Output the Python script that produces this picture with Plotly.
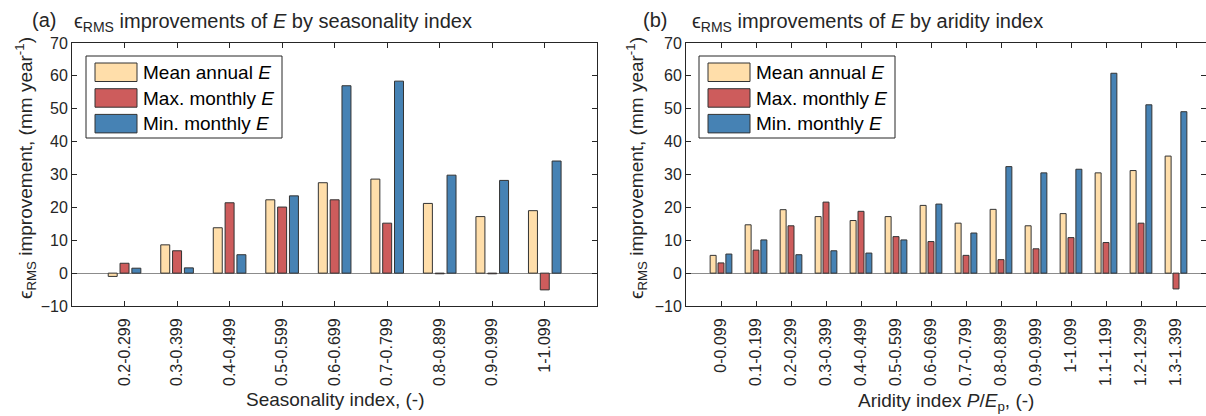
import plotly.graph_objects as go

# ---------------- data ----------------
season_labels = ["0.2-0.299", "0.3-0.399", "0.4-0.499", "0.5-0.599", "0.6-0.699",
                 "0.7-0.799", "0.8-0.899", "0.9-0.999", "1-1.099"]
season_mean_annual = [-1.0, 8.6, 13.8, 22.3, 27.5, 28.6, 21.2, 17.2, 19.0]
season_max_monthly = [3.0, 6.8, 21.4, 20.1, 22.3, 15.2, -0.2, -0.2, -5.1]
season_min_monthly = [1.5, 1.6, 5.6, 23.5, 57.0, 58.4, 29.8, 28.2, 34.1]

aridity_labels = ["0-0.099", "0.1-0.199", "0.2-0.299", "0.3-0.399", "0.4-0.499",
                  "0.5-0.599", "0.6-0.699", "0.7-0.799", "0.8-0.899", "0.9-0.999",
                  "1-1.099", "1.1-1.199", "1.2-1.299", "1.3-1.399"]
aridity_mean_annual = [5.4, 14.7, 19.3, 17.2, 16.0, 17.2, 20.6, 15.2, 19.4, 14.4, 18.1, 30.5, 31.2, 35.6]
aridity_max_monthly = [3.1, 7.0, 14.4, 21.6, 18.8, 11.1, 9.6, 5.4, 4.1, 7.4, 10.8, 9.3, 15.2, -4.8]
aridity_min_monthly = [5.8, 10.1, 5.6, 6.8, 6.1, 10.1, 21.0, 12.2, 32.4, 30.5, 31.6, 60.8, 51.2, 49.1]

series_names = ["Mean annual <i>E</i>", "Max. monthly <i>E</i>", "Min. monthly <i>E</i>"]
series_colors = ["#FFDEAA", "#CD5C5C", "#4682B4"]

# ---------------- style ----------------
FONT = "Liberation Sans, Arial, sans-serif"
AX = "#262626"
EDGE = "#333333"
W, H = 1206, 416
ML, MT, MB = 72, 43, 110
PW = W - ML
PH = H - MT - MB


def px_x(p):
    return (p - ML) / PW


def px_y(p):
    return 1 - (p - MT) / PH


fig = go.Figure()

panels = [
    ("x", "y", season_labels, [season_mean_annual, season_max_monthly, season_min_monthly]),
    ("x2", "y2", aridity_labels, [aridity_mean_annual, aridity_max_monthly, aridity_min_monthly]),
]
for xa, ya, labels, series in panels:
    for name, color, vals in zip(series_names, series_colors, series):
        fig.add_trace(go.Bar(
            x=labels, y=vals, name=name, xaxis=xa, yaxis=ya,
            marker=dict(color=color, line=dict(color=EDGE, width=1)),
            offsetgroup=name, showlegend=False,
        ))

common_x = dict(
    type="category", showline=True, linecolor=AX, linewidth=1, mirror="ticks",
    ticks="inside", ticklen=5, tickcolor=AX, tickangle=-90, ticklabelstandoff=5,
    tickfont=dict(family=FONT, size=16, color=AX), showgrid=False, zeroline=False,
)
common_y = dict(
    range=[-10, 70], dtick=10, showline=True, linecolor=AX, linewidth=1, mirror="ticks",
    ticks="inside", ticklen=5, tickcolor=AX,
    tickfont=dict(family=FONT, size=16, color=AX), showgrid=False,
    zeroline=True, zerolinecolor="#8C8C8C", zerolinewidth=1,
)

x1_dom = [0, px_x(597.3)]
x2_dom = [px_x(686), 1]
unit2 = 35.0
x2_span = (W - 686) / unit2

fig.update_layout(
    width=W, height=H,
    margin=dict(l=ML, r=0, t=MT, b=MB, pad=0),
    paper_bgcolor="white", plot_bgcolor="white",
    barmode="group", bargap=0.325, bargroupgap=0.24,
    font=dict(family=FONT, color=AX),
    xaxis=dict(domain=x1_dom, anchor="y", range=[-1, 9], **common_x),
    yaxis=dict(domain=[0, 1], anchor="x", **common_y),
    xaxis2=dict(domain=x2_dom, anchor="y2", range=[-1, x2_span - 1], **common_x),
    yaxis2=dict(domain=[0, 1], anchor="x2", **common_y),
    showlegend=False,
)

annotations = [
    # panel titles
    dict(text="(a)", x=px_x(30), y=px_y(20), xanchor="left", yanchor="middle", font=dict(size=20)),
    dict(text="ϵ<sub>RMS</sub> improvements of <i>E</i> by seasonality index",
         x=px_x(72), y=px_y(22), xanchor="left", yanchor="middle", font=dict(size=20)),
    dict(text="(b)", x=px_x(641), y=px_y(20), xanchor="left", yanchor="middle", font=dict(size=20)),
    dict(text="ϵ<sub>RMS</sub> improvements of <i>E</i> by aridity index",
         x=px_x(690), y=px_y(22), xanchor="left", yanchor="middle", font=dict(size=20)),
    # y titles
    dict(text="ϵ<sub>RMS</sub> improvement, (mm year<sup>-1</sup>)", textangle=-90,
         x=px_x(25), y=px_y(168), xanchor="center", yanchor="middle", font=dict(size=19)),
    dict(text="ϵ<sub>RMS</sub> improvement, (mm year<sup>-1</sup>)", textangle=-90,
         x=px_x(636), y=px_y(168), xanchor="center", yanchor="middle", font=dict(size=19)),
    # x titles
    dict(text="Seasonality index, (-)", x=px_x(335), y=px_y(399),
         xanchor="center", yanchor="middle", font=dict(size=19)),
    dict(text="Aridity index <i>P</i>/<i>E</i><sub>p</sub>, (-)", x=px_x(946), y=px_y(402),
         xanchor="center", yanchor="middle", font=dict(size=19)),
]

# legends (box, swatches, labels) for both panels
shapes = []
LEG_W, LEG_TOP, LEG_BOT = 196, 56, 138
for left in (86, 699):
    shapes.append(dict(type="rect", xref="paper", yref="paper",
                       x0=px_x(left), x1=px_x(left + LEG_W), y0=px_y(LEG_BOT), y1=px_y(LEG_TOP),
                       fillcolor="white", line=dict(color=AX, width=1), layer="above"))
    for i, (name, color) in enumerate(zip(series_names, series_colors)):
        top = LEG_TOP + 7 + i * 25.7
        shapes.append(dict(type="rect", xref="paper", yref="paper",
                           x0=px_x(left + 9), x1=px_x(left + 51),
                           y0=px_y(top + 18.5), y1=px_y(top),
                           fillcolor=color, line=dict(color=EDGE, width=1), layer="above"))
        annotations.append(dict(text=name, x=px_x(left + 55), y=px_y(top + 9.5),
                                xanchor="left", yanchor="middle",
                                font=dict(size=19, color="#000000")))

for a in annotations:
    a.update(xref="paper", yref="paper", showarrow=False)
    a["font"].update(family=FONT)
    a["font"].setdefault("color", AX)
fig.update_layout(annotations=annotations, shapes=shapes)

fig.write_html("out.html", config={"displayModeBar": False},
               post_script="document.body.style.margin='0px';")
